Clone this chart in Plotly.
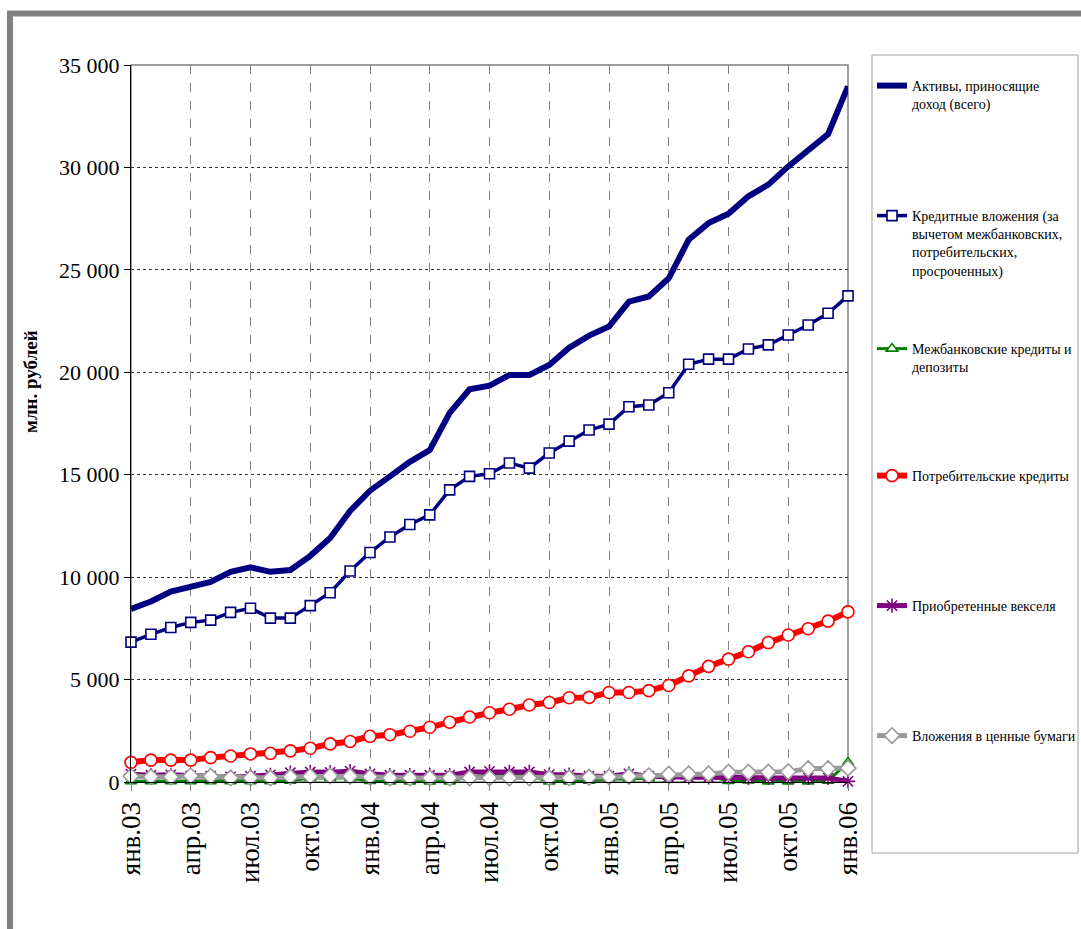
import plotly.graph_objects as go

# Monthly categories, Jan 2003 .. Jan 2006
month_names = ["янв", "фев", "мар", "апр", "май", "июн",
               "июл", "авг", "сен", "окт", "ноя", "дек"]
months = [f"{m}.{y:02d}" for y in (3, 4, 5) for m in month_names] + ["янв.06"]
tick_months = months[::3]

# Values, million roubles
aktivy = [8450, 8810, 9300, 9520, 9770, 10260, 10480, 10260, 10350, 11040, 11910, 13230,
          14220, 14920, 15630, 16200, 18020, 19170, 19350, 19870, 19870, 20360, 21200, 21790,
          22230, 23450, 23700, 24590, 26470, 27280, 27740, 28590, 29160, 30050, 30860, 31630,
          33960]
kredity = [6830, 7210, 7540, 7790, 7900, 8280, 8480, 8000, 8000, 8610, 9240, 10300,
           11200, 11960, 12570, 13040, 14260, 14920, 15050, 15570, 15320, 16060, 16640, 17180,
           17470, 18320, 18400, 19000, 20390, 20640, 20640, 21140, 21340, 21820, 22310, 22880,
           23730]
mezhbank = [40, 40, 40, 40, 40, 40, 40, 40, 60, 200, 200, 200,
            50, 30, 30, 30, 30, 250, 330, 330, 300, 30, 30, 60,
            150, 150, 200, 250, 300, 300, 50, 80, 30, 30, 30, 60,
            950]
potreb = [960, 1070, 1070, 1070, 1190, 1270, 1370, 1400, 1520, 1650, 1860, 1980,
          2230, 2310, 2480, 2670, 2920, 3170, 3380, 3550, 3760, 3880, 4110, 4130,
          4370, 4370, 4460, 4710, 5180, 5645, 6000, 6355, 6806, 7177, 7484, 7855,
          8306]
veksel = [380, 330, 350, 300, 280, 250, 280, 350, 450, 490, 470, 530,
          400, 330, 330, 330, 330, 490, 520, 490, 490, 360, 360, 280,
          280, 400, 280, 230, 230, 230, 200, 200, 200, 200, 200, 200,
          30]
bumagi = [280, 250, 250, 300, 280, 200, 200, 200, 250, 280, 300, 280,
          250, 200, 200, 200, 200, 200, 200, 200, 200, 200, 200, 230,
          250, 280, 300, 380, 390, 390, 480, 480, 480, 500, 650, 650,
          680]

y_ticks = list(range(0, 35001, 5000))

SERIF = "Liberation Serif, Times New Roman, serif"

series = [
    dict(name="Активы, приносящие<br>доход (всего)", y=aktivy, color="#000080",
         width=6, symbol=None, size=0, legend="legend"),
    dict(name="Кредитные вложения (за<br>вычетом межбанковских,<br>потребительских,<br>просроченных)",
         y=kredity, color="#000080", width=3.5, symbol="square", size=10, legend="legend2"),
    dict(name="Межбанковские кредиты и<br>депозиты", y=mezhbank, color="#008000",
         width=3, symbol="triangle-up", size=10, legend="legend3"),
    dict(name="Потребительские кредиты", y=potreb, color="#FF0000",
         width=6, symbol="circle", size=12, legend="legend4"),
    dict(name="Приобретенные векселя", y=veksel, color="#800080",
         width=5, symbol="asterisk-open", size=12, legend="legend5"),
    dict(name="Вложения в ценные бумаги", y=bumagi, color="#999999",
         width=5, symbol="diamond", size=12, legend="legend6"),
]

fig = go.Figure()
for s in series:
    if s["symbol"] is None:
        mode = "lines"
        marker = None
    elif s["symbol"] == "asterisk-open":
        mode = "lines+markers"
        marker = dict(symbol=s["symbol"], size=s["size"],
                      line=dict(color=s["color"], width=1.6), color=s["color"])
    else:
        mode = "lines+markers"
        marker = dict(symbol=s["symbol"], size=s["size"], color="white",
                      line=dict(color=s["color"], width=1.6))
    fig.add_trace(go.Scatter(
        x=months, y=s["y"], name=s["name"], mode=mode,
        line=dict(color=s["color"], width=s["width"]),
        marker=marker, cliponaxis=False, legend=s["legend"],
    ))

# Plot area geometry (pixels) used for paper-coordinate decorations
W, H = 1081, 929
L, R, T, B = 131, 848, 65, 782
pw, ph = R - L, B - T


def px(x):
    return (x - L) / pw


def py(y):
    return (B - y) / ph


legend_font = dict(family=SERIF, size=14, color="black")
legend_tops = [70, 200, 333, 460, 590, 720]
legend_layout = {}
for i, top in enumerate(legend_tops):
    key = "legend" if i == 0 else f"legend{i + 1}"
    legend_layout[key] = dict(
        x=px(872), y=py(top), xanchor="left", yanchor="top",
        font=legend_font, bgcolor="rgba(0,0,0,0)", borderwidth=0,
        valign="top", itemwidth=30, tracegroupgap=0,
    )

fig.update_layout(
    width=W, height=H,
    margin=dict(l=L, r=W - R, t=T, b=H - B, autoexpand=False),
    paper_bgcolor="white", plot_bgcolor="white",
    separators=". ",
    showlegend=True,
    **legend_layout,
    xaxis=dict(
        type="category", range=[0, len(months) - 1],
        tickmode="array", tickvals=tick_months, ticktext=tick_months,
        tickangle=-90, tickfont=dict(family=SERIF, size=27, color="black"),
        ticks="outside", ticklen=8, tickcolor="#808080",
        showgrid=True, gridcolor="#808080", griddash="dash", gridwidth=1,
        showline=True, linecolor="black", linewidth=1.2,
        zeroline=False, fixedrange=True, automargin=False,
    ),
    yaxis=dict(
        range=[0, 35000], tickmode="array", tickvals=y_ticks,
        tickformat=",d", tickfont=dict(family=SERIF, size=22, color="black"),
        ticks="outside", ticklen=6, tickcolor="black",
        showgrid=True, gridcolor="#333333", griddash="dot", gridwidth=1,
        showline=True, linecolor="black", linewidth=1.2,
        zeroline=False, fixedrange=True, automargin=False,
    ),
    annotations=[dict(
        text="<b>млн. рублей</b>", textangle=-90,
        x=px(30), y=py(382), xref="paper", yref="paper",
        xanchor="center", yanchor="middle",
        showarrow=False, font=dict(family=SERIF, size=19, color="black"),
    )],
    shapes=[
        # plot area frame
        dict(type="rect", xref="paper", yref="paper", x0=0, y0=0, x1=1, y1=1,
             line=dict(color="#808080", width=1.5), layer="between"),
        # legend box
        dict(type="rect", xref="paper", yref="paper",
             x0=px(872), y0=py(853), x1=px(1078), y1=py(55),
             line=dict(color="#a0a0a0", width=1), layer="below"),
        # outer chart frame
        dict(type="rect", xref="paper", yref="paper",
             x0=px(10), y0=py(960), x1=px(1110), y1=py(13.5),
             line=dict(color="#808080", width=6), layer="below"),
    ],
)

fig.write_html("out.html")
